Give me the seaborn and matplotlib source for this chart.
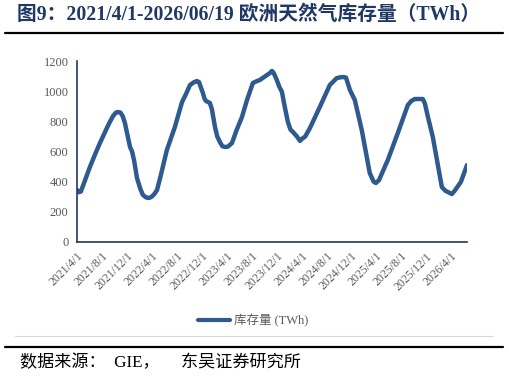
import numpy as np
import pandas as pd
import seaborn as sns
import matplotlib.pyplot as plt
from matplotlib.lines import Line2D

# storage readings (TWh)
dates = ['2021-04-01', '2021-04-10', '2021-04-20', '2021-05-05', '2021-06-03', '2021-07-01',
         '2021-07-22', '2021-08-25', '2021-09-10', '2021-09-24', '2021-10-08', '2021-10-18',
         '2021-10-30', '2021-11-10', '2021-11-21', '2021-12-05', '2021-12-16', '2021-12-26',
         '2022-01-05', '2022-01-19', '2022-02-05', '2022-02-17', '2022-03-05', '2022-03-19',
         '2022-04-01', '2022-04-15', '2022-04-27', '2022-05-15', '2022-06-14', '2022-07-23',
         '2022-08-27', '2022-09-15', '2022-10-05', '2022-10-25', '2022-11-08', '2022-11-18',
         '2022-12-01', '2022-12-07', '2022-12-15', '2022-12-22', '2023-01-10', '2023-01-20',
         '2023-02-04', '2023-02-15', '2023-02-28', '2023-03-12', '2023-03-25', '2023-04-08',
         '2023-04-28', '2023-05-20', '2023-06-16', '2023-07-10', '2023-08-08', '2023-08-25',
         '2023-09-11', '2023-10-16', '2023-10-30', '2023-11-09', '2023-11-18', '2023-12-03',
         '2023-12-15', '2023-12-28', '2024-01-11', '2024-01-26', '2024-02-08', '2024-02-20',
         '2024-03-10', '2024-03-25', '2024-04-05', '2024-04-20', '2024-05-13', '2024-06-30',
         '2024-08-18', '2024-09-21', '2024-10-10', '2024-10-21', '2024-11-05', '2024-11-24',
         '2024-12-18', '2025-01-21', '2025-03-01', '2025-03-20', '2025-03-31', '2025-04-15',
         '2025-05-28', '2025-07-16', '2025-09-03', '2025-09-20', '2025-10-07', '2025-11-15',
         '2025-11-25', '2025-12-10', '2026-01-03', '2026-02-16', '2026-03-05', '2026-04-06',
         '2026-04-20', '2026-05-20', '2026-06-19']
storage = [345, 330, 335, 390, 497, 590,
           656, 756, 800, 835, 858, 862,
           858, 835, 789, 700, 630, 600,
           540, 424, 350, 312, 295, 292,
           300, 320, 345, 440, 610, 762,
           928, 980, 1041, 1060, 1067, 1060,
           1010, 988, 950, 935, 922, 880,
           762, 700, 663, 635, 630, 632,
           656, 740, 829, 940, 1054, 1065,
           1074, 1107, 1120, 1134, 1120, 1074,
           1030, 995, 895, 796, 745, 729,
           700, 670, 685, 700, 756, 895,
           1041, 1087, 1092, 1094, 1090, 1008,
           941, 742, 457, 400, 391, 410,
           543, 722, 908, 935, 948, 948,
           920, 830, 696, 365, 340, 318,
           340, 398, 510]
tick_dates = pd.date_range('2021-04-01', '2026-04-01', freq='4MS')

df = pd.DataFrame({'date': pd.to_datetime(dates), 'storage': storage})

sns.set_style('white')
plt.rcParams['font.family'] = ['Liberation Serif', 'Noto Sans CJK SC']

navy = '#1F3864'
line_c = '#2F5A8F'
grey = '#595959'

fig = plt.figure(figsize=(5.09, 3.81), dpi=100)
ax = fig.add_axes([77/509, 1-242/381, 390/509, 181/381])
sns.lineplot(data=df, x='date', y='storage', color=line_c, linewidth=3.2, ax=ax, legend=False)

ax.set_xlim(pd.Timestamp('2021-04-01'), pd.Timestamp('2026-06-19'))
ax.set_ylim(0, 1200)
ax.set_yticks(range(0, 1201, 200))
ax.set_xticks(tick_dates)
ax.set_xticklabels([f'{d.year}/{d.month}/1' for d in tick_dates], rotation=45,
                   ha='right', rotation_mode='anchor', color=grey, fontsize=8.5)
ax.tick_params(axis='y', labelcolor=grey, labelsize=9, direction='in', length=4, color=navy, pad=6)
ax.tick_params(axis='x', direction='in', length=4, color=navy, pad=6)
ax.set_xlabel('')
ax.set_ylabel('')
for s in ['top', 'right']:
    ax.spines[s].set_visible(False)
for s in ['left', 'bottom']:
    ax.spines[s].set_color(navy)
    ax.spines[s].set_linewidth(1.2)

fig.legend(handles=[Line2D([0], [0], color=line_c, linewidth=3)], labels=['库存量 (TWh)'],
           loc='center', bbox_to_anchor=(253/509, 1-321/381), frameon=False,
           handlelength=2.6, handletextpad=0.3, fontsize=9, labelcolor=grey)

fig.text(17/509, 1-15/381, '图9：2021/4/1-2026/06/19 欧洲天然气库存量（TWh）',
         fontsize=14.2, fontweight='bold', color=navy, va='center', ha='left')
fig.add_artist(Line2D([5/509, 503/509], [1-33/381, 1-33/381], color='black', linewidth=1.6))
fig.add_artist(Line2D([15/509, 493/509], [1-336/381, 1-336/381], color='#D9D9D9', linewidth=0.8))
fig.add_artist(Line2D([5/509, 503/509], [1-347/381, 1-347/381], color='black', linewidth=1.6))
fig.text(20/509, 1-363/381, '数据来源：  GIE，　 东吴证券研究所', fontsize=12.3, color='black',
         va='center', ha='left')

fig.savefig('out.png', dpi=100)
